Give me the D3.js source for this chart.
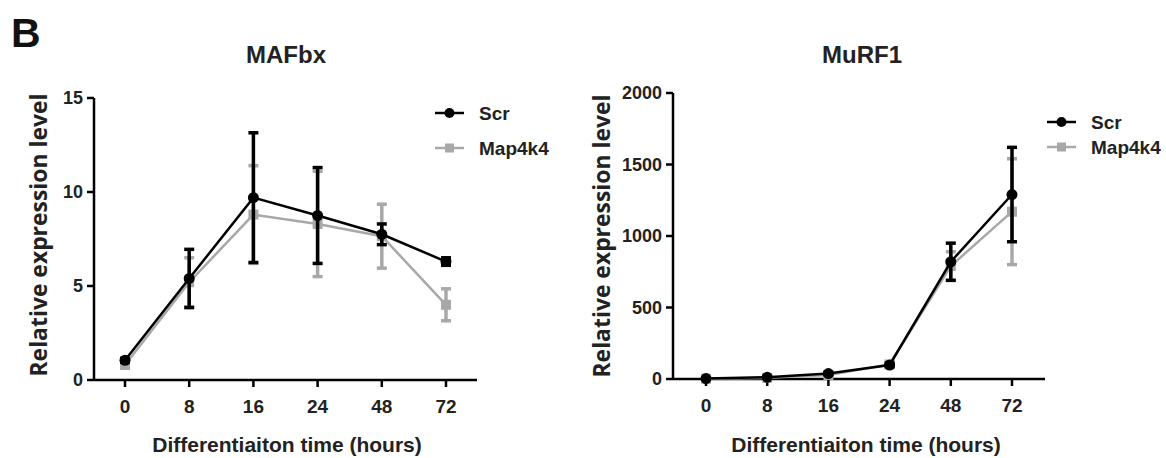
<!DOCTYPE html>
<html>
<head>
<meta charset="utf-8">
<script src="https://cdn.jsdelivr.net/npm/d3@7"></script>
<style>
  body { margin: 0; background: #fff; }
  svg { font-family: "Liberation Sans", Arial, sans-serif; font-weight: bold; }
</style>
</head>
<body>
<div id="chart"></div>
<script>
// time points (categorical, equally spaced)
const timeLabels = ["0", "8", "16", "24", "48", "72"];
const seriesNames = ["Scr", "Map4k4"];

// MAFbx
const mafScrMean = [1.05, 5.4, 9.7, 8.75, 7.75, 6.3];
const mafScrErr  = [0.1, 1.55, 3.45, 2.55, 0.55, 0.2];
const mafMapMean = [0.8, 5.2, 8.8, 8.3, 7.65, 4.0];
const mafMapErr  = [0.1, 1.3, 2.6, 2.8, 1.7, 0.85];

// MuRF1
const murScrMean = [3, 12, 38, 98, 820, 1290];
const murScrErr  = [3, 5, 8, 12, 130, 330];
const murMapMean = [2, 8, 28, 102, 790, 1170];
const murMapErr  = [2, 4, 6, 15, 100, 370];

const yTicksMaf = [0, 5, 10, 15];
const yTicksMur = [0, 500, 1000, 1500, 2000];

const colors = { Scr: "#000", Map4k4: "#a8a8a8" };

const svg = d3.select("#chart").append("svg")
  .attr("width", 1166).attr("height", 458);

svg.append("text").attr("x", 11).attr("y", 47)
  .attr("font-size", 41).attr("fill", "#111").text("B");

function panel(opt) {
  const g = svg.append("g");
  const x = d3.scalePoint().domain(timeLabels)
    .range([opt.x0 + opt.pad, opt.x1 - opt.pad]);
  const y = d3.scaleLinear().domain([0, opt.ymax]).range([opt.y0, opt.y1]);

  // axes
  g.append("line").attr("x1", opt.x0).attr("x2", opt.x0)
    .attr("y1", opt.y0).attr("y2", opt.y1).attr("stroke", "#000").attr("stroke-width", 2.5);
  g.append("line").attr("x1", opt.x0).attr("x2", opt.x1)
    .attr("y1", opt.y0).attr("y2", opt.y0).attr("stroke", "#000").attr("stroke-width", 2.5);

  const yt = g.append("g").selectAll("g").data(opt.yTicks).join("g")
    .attr("transform", d => `translate(${opt.x0},${y(d)})`);
  yt.append("line").attr("x1", -7).attr("x2", 0).attr("stroke", "#000").attr("stroke-width", 2.5);
  yt.append("text").attr("x", -11).attr("dy", "0.35em").attr("text-anchor", "end")
    .attr("font-size", 18).attr("fill", "#222").text(d => d);

  const xt = g.append("g").selectAll("g").data(timeLabels).join("g")
    .attr("transform", d => `translate(${x(d)},${opt.y0})`);
  xt.append("line").attr("y1", 0).attr("y2", 7).attr("stroke", "#000").attr("stroke-width", 2.5);
  xt.append("text").attr("y", 33).attr("text-anchor", "middle")
    .attr("font-size", 19).attr("fill", "#222").text(d => d);

  // titles
  g.append("text").attr("x", opt.titleX).attr("y", 63).attr("text-anchor", "middle")
    .attr("font-size", 24).attr("fill", "#222").text(opt.title);
  g.append("text").attr("x", opt.xlabX).attr("y", 452).attr("text-anchor", "middle")
    .attr("font-size", 21).attr("fill", "#222").text("Differentiaiton time (hours)");
  g.append("text")
    .attr("transform", `translate(${opt.ylabX},${opt.ylabY}) rotate(-90)`)
    .attr("text-anchor", "middle").attr("font-size", 23).attr("fill", "#222")
    .attr("font-family", "'Open Sans', sans-serif")
    .attr("textLength", 283).attr("lengthAdjust", "spacingAndGlyphs")
    .text("Relative expression level");

  const line = d3.line().x((d, i) => x(timeLabels[i])).y(d => y(d));

  // draw Map4k4 first (behind), then Scr
  [["Map4k4", opt.mapMean, opt.mapErr], ["Scr", opt.scrMean, opt.scrErr]].forEach(([name, mean, err]) => {
    const c = colors[name];
    const s = g.append("g");
    s.append("path").datum(mean).attr("d", line)
      .attr("fill", "none").attr("stroke", c).attr("stroke-width", 2.5);
    const eb = s.selectAll("g.eb").data(mean).join("g")
      .attr("transform", (d, i) => `translate(${x(timeLabels[i])},0)`);
    eb.append("line").attr("y1", (d, i) => y(d + err[i])).attr("y2", (d, i) => y(Math.max(0, d - err[i])))
      .attr("stroke", c).attr("stroke-width", 3.5);
    eb.append("line").attr("x1", -5).attr("x2", 5)
      .attr("y1", (d, i) => y(d + err[i])).attr("y2", (d, i) => y(d + err[i]))
      .attr("stroke", c).attr("stroke-width", 3.5);
    eb.append("line").attr("x1", -5).attr("x2", 5)
      .attr("y1", (d, i) => y(Math.max(0, d - err[i]))).attr("y2", (d, i) => y(Math.max(0, d - err[i])))
      .attr("stroke", c).attr("stroke-width", 3.5);
    if (name === "Scr") {
      eb.append("circle").attr("cy", d => y(d)).attr("r", 5.5).attr("fill", c);
    } else {
      eb.append("rect").attr("x", -5).attr("y", d => y(d) - 5).attr("width", 10).attr("height", 10).attr("fill", c);
    }
  });

  // legend
  const lg = g.append("g");
  seriesNames.forEach((name, i) => {
    const ly = opt.legY[i];
    const c = colors[name];
    lg.append("line").attr("x1", opt.legX).attr("x2", opt.legX + 29)
      .attr("y1", ly).attr("y2", ly).attr("stroke", c).attr("stroke-width", 2.5);
    if (name === "Scr") {
      lg.append("circle").attr("cx", opt.legX + 14.5).attr("cy", ly).attr("r", 5).attr("fill", c);
    } else {
      lg.append("rect").attr("x", opt.legX + 10).attr("y", ly - 4.5).attr("width", 9).attr("height", 9).attr("fill", c);
    }
    lg.append("text").attr("x", opt.legX + 44).attr("y", ly).attr("dy", "0.35em")
      .attr("font-size", 19).attr("fill", "#222").text(name);
  });
}

panel({
  x0: 94, x1: 477, pad: 31, y0: 380, y1: 98, ymax: 15, yTicks: yTicksMaf,
  title: "MAFbx", titleX: 286, xlabX: 287, ylabX: 47, ylabY: 235,
  scrMean: mafScrMean, scrErr: mafScrErr, mapMean: mafMapMean, mapErr: mafMapErr,
  legX: 435, legY: [113, 148]
});

panel({
  x0: 673, x1: 1045, pad: 33, y0: 379, y1: 93, ymax: 2000, yTicks: yTicksMur,
  title: "MuRF1", titleX: 862, xlabX: 866, ylabX: 610, ylabY: 236,
  scrMean: murScrMean, scrErr: murScrErr, mapMean: murMapMean, mapErr: murMapErr,
  legX: 1047, legY: [122, 147]
});
</script>
</body>
</html>
